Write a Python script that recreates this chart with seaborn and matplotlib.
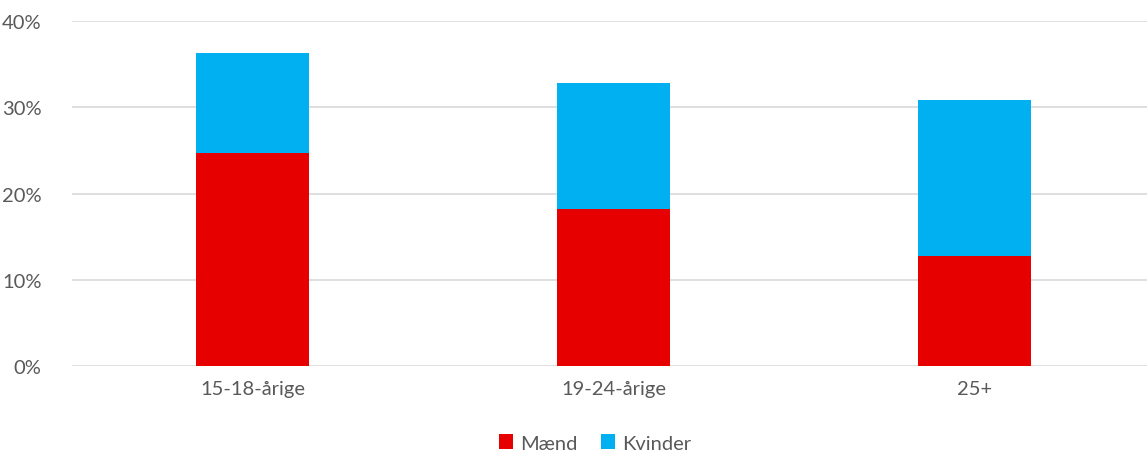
import matplotlib
matplotlib.use("Agg")
import matplotlib.pyplot as plt
import seaborn as sns
import pandas as pd
import numpy as np
from matplotlib.patches import Patch
from matplotlib.ticker import FuncFormatter

categories = ["15-18-årige", "19-24-årige", "25+"]
maend = [24.7, 18.2, 12.7]
kvinder = [11.6, 14.6, 18.1]
series_names = ["Mænd", "Kvinder"]
yticks = [0, 10, 20, 30, 40]

RED = "#E60000"
BLUE = "#00B0F0"
TXT = "#595959"

sns.set_theme(style="white")
plt.rcParams['font.family'] = ['Lato', 'DejaVu Sans']

df = pd.DataFrame({"cat": categories, "Mænd": maend, "Kvinder": kvinder})
df["total"] = df["Mænd"] + df["Kvinder"]

fig = plt.figure(figsize=(11.47, 4.52), dpi=100)
ax = fig.add_axes([72/1147, 85/452, 1083/1147, 345/452])

sns.barplot(data=df, x="cat", y="total", color=BLUE, saturation=1, width=0.313, ax=ax,
            linewidth=0, edgecolor="none", zorder=2)
sns.barplot(data=df, x="cat", y="Mænd", color=RED, saturation=1, width=0.313, ax=ax,
            linewidth=0, edgecolor="none", zorder=3)

ax.set_ylim(0, 40)
ax.set_xlim(-0.5, 2.5)
ax.set_yticks(yticks)
ax.yaxis.set_major_formatter(FuncFormatter(lambda v, p: f"{int(v)}%"))
ax.grid(axis="y", color="#D9D9D9", linewidth=1.2, zorder=0)
ax.set_axisbelow(True)
for s in ax.spines.values():
    s.set_visible(False)
ax.set_xlabel("")
ax.set_ylabel("")
ax.tick_params(axis="y", length=0, pad=22, labelsize=14.5, labelcolor=TXT)
ax.tick_params(axis="x", length=0, pad=10, labelsize=14.5, labelcolor=TXT)

handles = [Patch(facecolor=RED, edgecolor="none"), Patch(facecolor=BLUE, edgecolor="none")]
fig.legend(handles, series_names, loc="center", bbox_to_anchor=(595/1147, 1 - 444/452),
           ncol=2, frameon=False, fontsize=14.5, labelcolor=TXT,
           handlelength=0.7, handleheight=0.7, handletextpad=0.35, columnspacing=1.2)

fig.savefig("out.png", dpi=100)
